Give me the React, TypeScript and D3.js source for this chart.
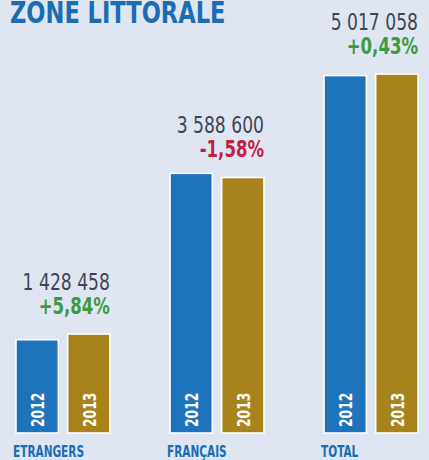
import React from "react";
import * as d3 from "d3";

const categories = ["ETRANGERS", "FRANÇAIS", "TOTAL"];
const years = ["2012", "2013"];
const values2012 = [1349639, 3646210, 4995577];
const values2013 = [1428458, 3588600, 5017058];
const totalLabels = ["1 428 458", "3 588 600", "5 017 058"];
const changeLabels = ["+5,84%", "-1,58%", "+0,43%"];
const title = "ZONE LITTORALE";

const W = 429;
const H = 460;
const FONT = "'DejaVu Sans Condensed', 'Liberation Sans Narrow', sans-serif";
const BLUE = "#1d74bb";
const GOLD = "#a8831b";
const BG = "#dfe6f1";
const TITLE_BLUE = "#1a6db3";
const NUM = "#3d4554";
const GREEN = "#3c9a40";
const RED = "#c21f48";

export default function App() {
  const x0 = d3.scaleBand<string>().domain(categories).range([16, 418]).paddingInner(0.39).paddingOuter(0);
  const x1 = d3.scaleBand<string>().domain(years).range([0, x0.bandwidth()]).paddingInner(0.18).paddingOuter(0);
  const y = d3.scaleLinear().domain([0, d3.max(values2013) as number]).range([437.5, 74]);
  const baseY = 433;
  const color = d3.scaleOrdinal<string, string>().domain(years).range([BLUE, GOLD]);

  return (
    <svg width={W} height={H} style={{ position: "absolute", left: 0, top: 0, display: "block" }}>
      <rect x={0} y={0} width={W} height={H} fill={BG} />
      <text
        transform={`translate(10,22.5) scale(0.85,1)`}
        fontFamily={FONT}
        fontWeight={700}
        fontSize={29.5}
        fill={TITLE_BLUE}
      >
        {title}
      </text>
      {categories.map((c, i) => {
        const gx = x0(c) as number;
        const vals = [values2012[i], values2013[i]];
        const right = gx + x0.bandwidth();
        const top13 = y(values2013[i]);
        const chg = changeLabels[i];
        return (
          <g key={c}>
            {years.map((yr, j) => {
              const bx = gx + (x1(yr) as number);
              const bw = x1.bandwidth();
              const ty = y(vals[j]);
              const cx = bx + bw / 2;
              return (
                <g key={yr}>
                  <rect x={bx} y={ty} width={bw} height={baseY - ty} fill={color(yr)} stroke="#ffffff" strokeWidth={1.6} />
                  <text
                    transform={`translate(${cx + 6.8},${baseY - 6}) rotate(-90) scale(0.74,1)`}
                    fontFamily={FONT}
                    fontWeight={700}
                    fontSize={18.5}
                    fill="#ffffff"
                  >
                    {yr}
                  </text>
                </g>
              );
            })}
            <text
              transform={`translate(${right},${top13 - 44}) scale(0.83,1)`}
              textAnchor="end"
              fontFamily={FONT}
              fontWeight={400}
              fontSize={23}
              fill={NUM}
            >
              {totalLabels[i]}
            </text>
            <text
              transform={`translate(${right},${top13 - 20}) scale(0.8,1)`}
              textAnchor="end"
              fontFamily={FONT}
              fontWeight={700}
              fontSize={23}
              fill={chg.startsWith("-") ? RED : GREEN}
            >
              {chg}
            </text>
            <text
              transform={`translate(${gx - 3},${456.5}) scale(0.71,1)`}
              fontFamily={FONT}
              fontWeight={700}
              fontSize={16.5}
              fill={TITLE_BLUE}
            >
              {c}
            </text>
          </g>
        );
      })}
    </svg>
  );
}
